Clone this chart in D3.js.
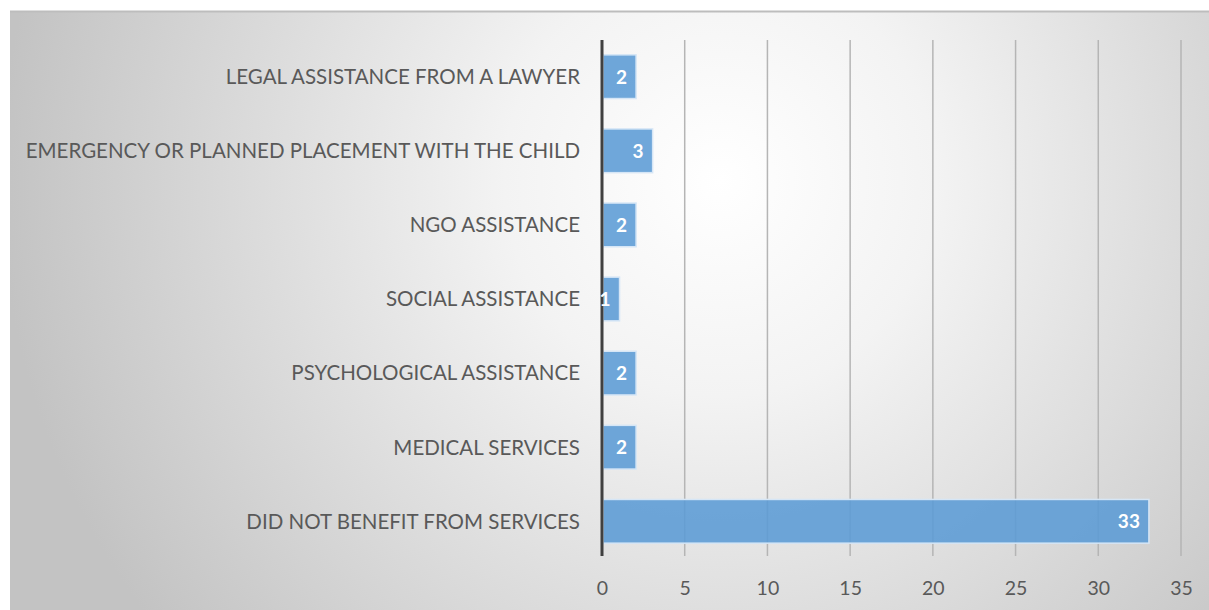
<!DOCTYPE html>
<html>
<head>
<meta charset="utf-8">
<script src="https://cdn.jsdelivr.net/npm/d3@7"></script>
<style>
  html, body { margin: 0; padding: 0; background: #ffffff; }
  svg { display: block; }
</style>
</head>
<body>
<div id="chart"></div>
<script>
// Services the respondents benefited from (counts)
const categories = [
  "LEGAL ASSISTANCE FROM A LAWYER",
  "EMERGENCY OR PLANNED PLACEMENT WITH THE CHILD",
  "NGO ASSISTANCE",
  "SOCIAL ASSISTANCE",
  "PSYCHOLOGICAL ASSISTANCE",
  "MEDICAL SERVICES",
  "DID NOT BENEFIT FROM SERVICES"
];
const values = [2, 3, 2, 1, 2, 2, 33];
const tickValues = [0, 5, 10, 15, 20, 25, 30, 35];

const W = 1209, H = 610;
const margin = { top: 40, right: 28, bottom: 54, left: 602 };

const svg = d3.select("#chart").append("svg")
  .attr("width", W).attr("height", H);

const defs = svg.append("defs");
const bg = defs.append("radialGradient")
  .attr("id", "bgGrad")
  .attr("gradientUnits", "userSpaceOnUse")
  .attr("cx", 720).attr("cy", 180).attr("r", 720)
  .attr("fx", 720).attr("fy", 180);
bg.append("stop").attr("offset", "0%").attr("stop-color", "#ffffff");
bg.append("stop").attr("offset", "30%").attr("stop-color", "#f3f3f3");
bg.append("stop").attr("offset", "100%").attr("stop-color", "#c3c3c3");

// Chart area background
svg.append("rect")
  .attr("x", 10).attr("y", 11)
  .attr("width", W - 10).attr("height", H - 11)
  .attr("fill", "url(#bgGrad)");
svg.append("line")
  .attr("x1", 10).attr("x2", W).attr("y1", 11.5).attr("y2", 11.5)
  .attr("stroke", "#bdbdbd").attr("stroke-width", 2);

const x = d3.scaleLinear().domain([0, 35]).range([margin.left, W - margin.right]);
const y = d3.scaleBand().domain(categories)
  .range([margin.top, H - margin.bottom + 2])
  .paddingInner(0.41).paddingOuter(0.2);

const gridBottom = 556;

// Vertical gridlines
svg.append("g").selectAll("line")
  .data(tickValues.filter(d => d > 0))
  .join("line")
  .attr("x1", d => x(d)).attr("x2", d => x(d))
  .attr("y1", margin.top).attr("y2", gridBottom)
  .attr("stroke", "#b5b5b5").attr("stroke-width", 1.5);

// Bars
svg.append("g").selectAll("rect")
  .data(values)
  .join("rect")
  .attr("x", x(0) + 1)
  .attr("y", (d, i) => y(categories[i]))
  .attr("width", d => x(d) - x(0))
  .attr("height", y.bandwidth())
  .attr("fill", "#5b9bd5").attr("fill-opacity", 0.88)
  .attr("stroke", "#d6e6f6").attr("stroke-width", 1.5);

// Value axis line at zero
svg.append("line")
  .attr("x1", x(0)).attr("x2", x(0))
  .attr("y1", margin.top).attr("y2", gridBottom)
  .attr("stroke", "#404040").attr("stroke-width", 3);

// Value labels inside bar end
svg.append("g").selectAll("text")
  .data(values)
  .join("text")
  .attr("x", d => x(d) - 8)
  .attr("y", (d, i) => y(categories[i]) + y.bandwidth() / 2)
  .attr("dy", "0.36em")
  .attr("text-anchor", "end")
  .attr("font-family", "Lato, 'Open Sans', sans-serif")
  .attr("font-weight", "bold")
  .attr("font-size", 19)
  .attr("fill", "#ffffff")
  .text(d => d);

// Category labels
svg.append("g").selectAll("text")
  .data(categories)
  .join("text")
  .attr("x", x(0) - 22)
  .attr("y", d => y(d) + y.bandwidth() / 2)
  .attr("dy", "0.36em")
  .attr("text-anchor", "end")
  .attr("font-family", "Lato, 'Open Sans', sans-serif")
  .attr("font-size", 20.5)
  .attr("fill", "#595959")
  .text(d => d);

// Tick labels
const axis = d3.axisBottom(x).tickValues(tickValues).tickSize(0).tickPadding(0);
const ax = svg.append("g")
  .attr("transform", `translate(0, ${gridBottom + 25})`)
  .call(axis);
ax.select(".domain").remove();
ax.selectAll("text")
  .attr("font-family", "Lato, 'Open Sans', sans-serif")
  .attr("font-size", 19.5)
  .attr("fill", "#595959");
</script>
</body>
</html>
